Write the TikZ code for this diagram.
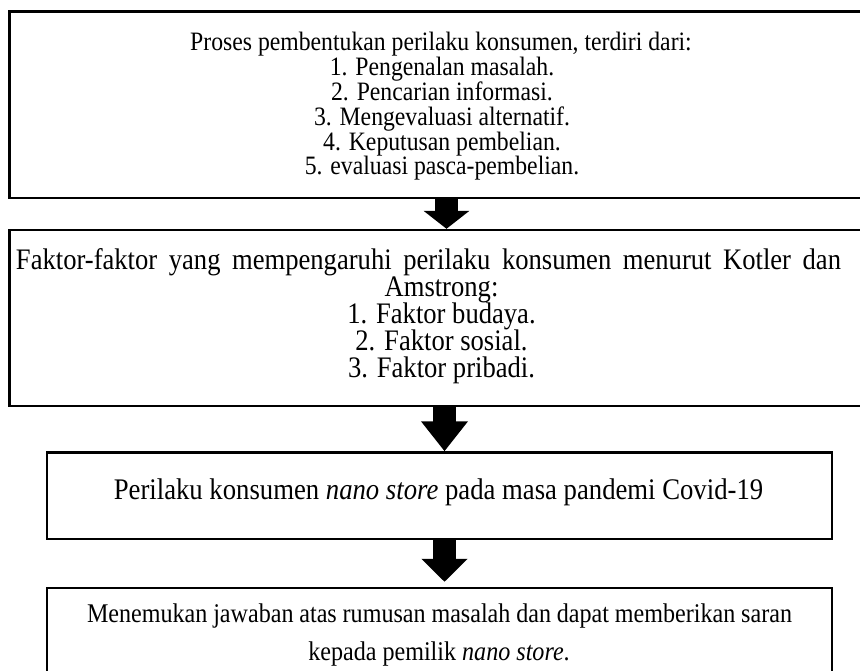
\documentclass[tikz,border=0pt]{standalone}
\usepackage{fontspec}
\usepackage{graphicx}
\setmainfont{Liberation Serif}
\usetikzlibrary{arrows.meta}
\newcommand{\vst}[1]{\scalebox{1}[1.12]{#1}}
\newcommand{\tightls}{\lineskiplimit=-100pt\relax}
\newcommand{\shiftline}[1]{\makebox[825pt]{\hspace{26pt}\vst{#1}}}
\tikzset{
  boxst/.style={draw=black, line width=2.4pt, rectangle, inner sep=0pt},
  tA/.style={font=\fontsize{23.7}{26}\selectfont, inner sep=0pt, anchor=base},
  tB/.style={font=\fontsize{26.6}{27}\selectfont\tightls, inner sep=0pt, align=center, anchor=north},
  tC/.style={font=\fontsize{26.7}{28}\selectfont, inner sep=0pt, anchor=base},
  tD/.style={font=\fontsize{24.1}{26}\selectfont, inner sep=0pt, anchor=base},
  bigarrow/.style={draw=black, line width=22.5pt, line cap=butt}
}
\begin{document}
\begin{tikzpicture}[x=1pt, y=-1pt]
\useasboundingbox (0,0) rectangle (860,671);
\clip (0,0) rectangle (860,671);
\fill[white] (0,0) rectangle (860,671);
% boxes
\node[boxst, minimum width=862.5pt, minimum height=186.5pt] (b1) at (440.75,104.75) {};
\node[boxst, minimum width=862.5pt, minimum height=176pt] (b2) at (440.75,318) {};
\node[boxst, minimum width=785pt, minimum height=86.5pt] (b3) at (439.5,495.75) {};
\node[boxst, minimum width=785pt, minimum height=112pt] (b4) at (439.5,644) {};
% box 1 text
\node[tA] (t1a) at (441,51) {\vst{Proses pembentukan perilaku konsumen, terdiri dari:}};
\node[tA] (t1b) at (442,75.8) {\vst{1. Pengenalan masalah.}};
\node[tA] (t1c) at (442,100.6) {\vst{2. Pencarian informasi.}};
\node[tA] (t1d) at (442,125.4) {\vst{3. Mengevaluasi alternatif.}};
\node[tA] (t1e) at (442,150.2) {\vst{4. Keputusan pembelian.}};
\node[tA] (t1f) at (442,175) {\vst{5. evaluasi pasca-pembelian.}};
% box 2 text
\node[tB] (t2) at (428.5,248.2) {\vst{\makebox[825pt][s]{Faktor-faktor yang mempengaruhi perilaku konsumen menurut Kotler dan}}\\
\shiftline{Amstrong:}\\
\shiftline{1. Faktor budaya.}\\
\shiftline{2. Faktor sosial.}\\
\shiftline{3. Faktor pribadi.}};
% box 3 text
\node[tC] (t3a) at (438.5,499) {\vst{Perilaku konsumen \textit{nano store} pada masa pandemi Covid-19}};
% box 4 text
\node[tD] (t4a) at (439.5,622) {\vst{\makebox[705pt][s]{Menemukan jawaban atas rumusan masalah dan dapat memberikan saran}}};
\node[tD] (t4b) at (439,660) {\vst{kepada pemilik \textit{nano store}.}};
% arrows
\coordinate (ax1) at (446.5,0);
\coordinate (ax) at (444.5,0);
\draw[bigarrow, -{Triangle[width=45pt,length=18pt]}] (b1.south -| ax1) -- (b2.north -| ax1);
\draw[bigarrow, -{Triangle[width=45pt,length=30pt]}] (b2.south -| ax) -- (b3.north -| ax);
\draw[bigarrow, -{Triangle[width=45pt,length=23pt]}] (b3.south -| ax) -- ([yshift=5pt]b4.north -| ax);
\end{tikzpicture}
\end{document}
